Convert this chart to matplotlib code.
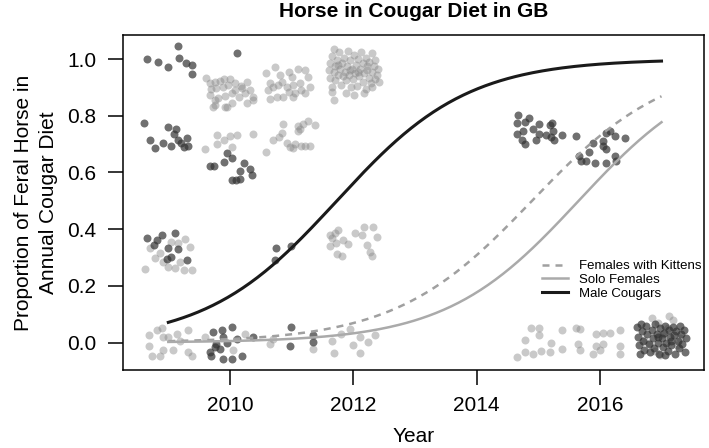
import numpy as np
import matplotlib
matplotlib.use("Agg")
import matplotlib.pyplot as plt

plt.rcParams['font.family'] = ['Liberation Sans', 'DejaVu Sans']

# jittered annual diet proportions, male cougars (dark points)
male_pts = [
    # 2009
    (2008.65, 1.002), (2008.84, 0.988), (2008.99, 0.972), (2009.16, 1.045), (2009.18, 1.004),
    (2009.28, 0.986), (2009.39, 0.980), (2009.38, 0.949),
    (2008.61, 0.775), (2008.99, 0.760), (2009.12, 0.754), (2008.70, 0.716), (2008.78, 0.687),
    (2008.92, 0.705), (2009.05, 0.695), (2009.16, 0.716), (2009.20, 0.705), (2009.30, 0.722),
    (2009.32, 0.692), (2009.10, 0.735), (2009.25, 0.690),
    (2008.65, 0.368), (2008.81, 0.362), (2008.89, 0.379), (2009.11, 0.388), (2009.00, 0.332),
    (2009.16, 0.329), (2008.98, 0.293), (2009.05, 0.303), (2009.30, 0.291), (2008.76, 0.344),
    # 2010
    (2010.11, 1.021),
    (2009.95, 0.669), (2010.03, 0.651), (2009.91, 0.636), (2009.68, 0.624), (2009.74, 0.622),
    (2010.22, 0.634), (2010.16, 0.604), (2010.32, 0.612), (2010.35, 0.592), (2010.03, 0.574),
    (2010.10, 0.572), (2010.16, 0.577),
    (2009.73, 0.037), (2009.87, 0.045), (2010.03, 0.054), (2009.89, 0.019), (2009.78, -0.005),
    (2009.68, -0.034), (2009.70, -0.046), (2009.89, -0.058), (2010.03, -0.058), (2009.84, -0.022),
    (2010.11, 0.013), (2010.19, -0.046), (2010.38, 0.019), (2009.76, -0.017), (2009.95, 0.000),
    # 2011
    (2010.74, 0.332), (2010.99, 0.340), (2010.73, 0.291),
    (2010.99, 0.054), (2010.97, -0.014), (2011.34, 0.025), (2011.35, 0.001),
    # 2015
    (2014.67, 0.801), (2014.65, 0.773), (2014.78, 0.778), (2014.85, 0.793), (2014.65, 0.734),
    (2014.73, 0.716), (2014.78, 0.699), (2014.75, 0.746), (2014.91, 0.752), (2014.96, 0.716),
    (2015.02, 0.770), (2015.02, 0.737), (2015.12, 0.731), (2015.19, 0.766), (2015.24, 0.746),
    (2015.26, 0.716), (2015.38, 0.731), (2015.62, 0.728), (2015.22, 0.775), (2015.20, 0.725),
    # 2016
    (2015.70, 0.639), (2015.66, 0.657), (2015.83, 0.671), (2015.77, 0.639), (2015.92, 0.633),
    (2015.89, 0.705), (2016.05, 0.711), (2016.10, 0.740), (2016.24, 0.728), (2016.40, 0.722),
    (2016.16, 0.746), (2016.10, 0.681), (2016.24, 0.657), (2016.27, 0.639), (2016.10, 0.633),
    (2016.05, 0.693),
    # 2017
    (2016.60, 0.055), (2016.62, 0.020), (2016.63, -0.010), (2016.65, -0.040), (2016.68, 0.040),
    (2016.70, 0.005), (2016.72, -0.025), (2016.75, 0.060), (2016.77, 0.030), (2016.79, -0.005),
    (2016.81, -0.035), (2016.84, 0.045), (2016.86, 0.015), (2016.88, -0.020), (2016.90, 0.065),
    (2016.92, 0.030), (2016.94, 0.000), (2016.96, -0.040), (2016.98, 0.050), (2017.00, 0.015),
    (2017.02, -0.015), (2017.04, 0.035), (2017.06, 0.060), (2017.08, 0.000), (2017.10, -0.030),
    (2017.12, 0.045), (2017.14, 0.020), (2017.16, -0.010), (2017.18, 0.055), (2017.20, 0.025),
    (2017.22, -0.040), (2017.24, 0.040), (2017.26, 0.005), (2017.28, -0.020), (2017.30, 0.060),
    (2017.32, 0.030), (2017.34, -0.005), (2017.36, 0.045), (2017.38, -0.035), (2017.40, 0.015),
    (2016.66, 0.065), (2017.05, -0.045), (2016.95, 0.020), (2017.15, 0.005),
]

# jittered annual diet proportions, females (light points)
female_pts = [
    # 2009
    (2008.68, 0.028), (2008.81, 0.043), (2008.90, 0.052), (2008.92, 0.019), (2008.69, -0.014),
    (2008.73, -0.046), (2008.86, -0.046), (2008.92, -0.028), (2009.08, -0.028), (2009.19, 0.007),
    (2009.32, 0.045), (2009.38, -0.046), (2009.32, -0.034), (2009.00, 0.019), (2009.14, 0.031),
    (2008.62, 0.258), (2008.70, 0.332), (2008.78, 0.297), (2008.86, 0.315), (2009.05, 0.356),
    (2009.16, 0.350), (2009.27, 0.364), (2009.35, 0.338), (2009.11, 0.262), (2009.26, 0.255),
    (2009.39, 0.255), (2009.00, 0.267), (2009.19, 0.285), (2008.92, 0.285),
    # 2010
    (2009.61, 0.935), (2009.68, 0.914), (2009.76, 0.920), (2009.84, 0.924), (2009.91, 0.928),
    (2010.00, 0.928), (2009.69, 0.893), (2009.78, 0.897), (2009.88, 0.902), (2009.97, 0.908),
    (2010.08, 0.917), (2010.18, 0.905), (2010.27, 0.920), (2009.75, 0.855), (2009.81, 0.861),
    (2009.92, 0.869), (2010.03, 0.879), (2010.14, 0.867), (2010.24, 0.879), (2010.32, 0.891),
    (2010.38, 0.867), (2009.76, 0.838), (2009.92, 0.832), (2010.03, 0.844), (2010.27, 0.846),
    (2010.38, 0.855), (2009.68, 0.873), (2010.08, 0.891), (2010.19, 0.897), (2009.73, 0.832),
    (2009.95, 0.832),
    (2009.59, 0.683), (2009.79, 0.733), (2009.79, 0.699), (2010.00, 0.728), (2010.11, 0.733),
    (2010.38, 0.734), (2010.04, 0.690), (2009.90, 0.715),
    (2010.05, -0.028), (2009.60, 0.020), (2010.25, 0.030),
    # 2011
    (2010.59, 0.950), (2010.65, 0.917), (2010.73, 0.973), (2010.81, 0.944), (2010.84, 0.920),
    (2010.95, 0.955), (2011.01, 0.938), (2011.11, 0.964), (2011.22, 0.961), (2011.27, 0.938),
    (2010.70, 0.902), (2010.78, 0.908), (2010.92, 0.902), (2011.03, 0.908), (2011.14, 0.914),
    (2011.30, 0.902), (2010.65, 0.858), (2010.76, 0.865), (2010.86, 0.867), (2011.03, 0.865),
    (2011.16, 0.891), (2010.95, 0.885), (2011.05, 0.879), (2010.62, 0.891), (2011.22, 0.879),
    (2010.59, 0.671), (2010.70, 0.716), (2010.84, 0.740), (2010.86, 0.770), (2010.92, 0.705),
    (2011.03, 0.687), (2011.11, 0.763), (2011.13, 0.752), (2011.16, 0.693), (2011.27, 0.781),
    (2011.38, 0.766), (2011.30, 0.693), (2011.22, 0.693), (2010.97, 0.690), (2011.10, 0.745),
    (2010.80, 0.725), (2011.18, 0.770), (2011.05, 0.700),
    (2010.65, -0.005), (2010.70, 0.013), (2011.35, -0.022),
    # 2012
    (2011.60, 0.960), (2011.62, 0.985), (2011.63, 0.935), (2011.66, 1.010), (2011.68, 0.955),
    (2011.70, 0.975), (2011.71, 0.925), (2011.73, 0.995), (2011.75, 0.945), (2011.77, 1.025),
    (2011.78, 0.965), (2011.80, 0.910), (2011.82, 0.985), (2011.83, 0.940), (2011.85, 1.005),
    (2011.86, 0.955), (2011.88, 0.925), (2011.90, 0.975), (2011.91, 1.030), (2011.93, 0.945),
    (2011.95, 0.995), (2011.96, 0.900), (2011.98, 0.965), (2012.00, 0.930), (2012.01, 1.015),
    (2012.03, 0.950), (2012.05, 0.980), (2012.06, 0.905), (2012.08, 1.000), (2012.10, 0.940),
    (2012.11, 0.965), (2012.13, 1.025), (2012.15, 0.920), (2012.16, 0.985), (2012.18, 0.950),
    (2012.20, 0.895), (2012.21, 1.005), (2012.23, 0.960), (2012.25, 0.935), (2012.26, 0.990),
    (2012.28, 0.915), (2012.30, 1.020), (2012.31, 0.955), (2012.33, 0.975), (2012.35, 0.930),
    (2012.36, 0.995), (2012.38, 0.945), (2012.40, 0.965), (2012.41, 0.920), (2011.65, 0.900),
    (2011.88, 0.880), (2012.02, 0.875), (2012.18, 0.880), (2012.30, 0.900), (2011.94, 0.960),
    (2012.07, 0.955), (2012.22, 0.975), (2011.76, 0.980), (2011.68, 1.035), (2011.65, 0.883),
    (2011.69, 0.855),
    (2011.62, 0.379), (2011.70, 0.388), (2011.76, 0.397), (2011.62, 0.340), (2011.72, 0.350),
    (2011.84, 0.362), (2011.92, 0.348), (2011.73, 0.314), (2011.82, 0.305), (2012.03, 0.388),
    (2012.14, 0.379), (2012.18, 0.407), (2012.32, 0.407), (2012.38, 0.371), (2012.22, 0.344),
    (2012.27, 0.320), (2012.31, 0.305), (2011.66, 0.367),
    (2011.65, 0.007), (2011.69, -0.038), (2011.94, 0.049), (2012.11, -0.038), (2012.24, 0.001),
    (2012.11, 0.019), (2011.80, 0.030), (2012.35, 0.025), (2012.00, -0.010),
    # 2015
    (2014.65, -0.050), (2014.78, -0.034), (2014.78, 0.009), (2014.89, 0.052), (2015.01, 0.052),
    (2015.01, 0.025), (2015.05, -0.031), (2015.19, -0.034), (2015.21, -0.002), (2015.38, 0.045),
    (2015.38, -0.022), (2014.92, -0.040),
    # 2016
    (2015.62, 0.052), (2015.68, 0.049), (2015.64, -0.005), (2015.67, -0.026), (2015.94, 0.031),
    (2016.05, 0.033), (2016.16, 0.033), (2016.32, 0.043), (2015.94, -0.011), (2016.05, -0.005),
    (2015.89, -0.040), (2016.00, -0.028), (2016.32, -0.011), (2016.32, -0.040),
    # 2017
    (2016.85, 0.085), (2016.95, 0.070), (2017.12, 0.095), (2017.18, 0.080), (2016.72, 0.010),
    (2017.02, 0.030), (2016.90, -0.030), (2017.25, -0.010), (2017.10, 0.050), (2016.80, 0.000),
    (2017.30, 0.015), (2016.98, -0.045),
]

# fitted logistic models: logit(p) = intercept + slope * (year - 2009)
fit_start, fit_end = 2009, 2017
fit_labels = ['Females with Kittens', 'Solo Females', 'Male Cougars']
fit_intercept = [-5.31, -6.19, -2.57]
fit_slope = [0.90, 0.93, 0.94]

x_ticks = [2010, 2012, 2014, 2016]
y_ticks = [0.0, 0.2, 0.4, 0.6, 0.8, 1.0]

fig = plt.figure(figsize=(7.09, 4.48), dpi=100)
ax = fig.add_axes([0.1735, 0.1741, 0.8195, 0.7478])

mx, my = zip(*male_pts)
fx, fy = zip(*female_pts)
ax.scatter(fx, fy, s=33, color='#888888', alpha=0.45, linewidths=0, zorder=2)
ax.scatter(mx, my, s=33, color='#333333', alpha=0.7, linewidths=0, zorder=2)

yrs = np.linspace(fit_start, fit_end, 200)
styles = [dict(color='#a0a0a0', lw=1.8, dashes=(2.8, 2.4)),
          dict(color='#aaaaaa', lw=1.8),
          dict(color='#1a1a1a', lw=2.2)]
for lab, a, b, st in zip(fit_labels, fit_intercept, fit_slope, styles):
    p = 1 / (1 + np.exp(-(a + b * (yrs - fit_start))))
    ax.plot(yrs, p, label=lab, zorder=3, **st)

ax.set_xlim(2008.265, 2017.69)
ax.set_ylim(-0.097, 1.085)
ax.set_xticks(x_ticks)
ax.set_xticklabels([str(t) for t in x_ticks])
ax.set_yticks(y_ticks)
ax.set_yticklabels([f'{t:.1f}' for t in y_ticks])
ax.tick_params(axis='both', length=11, width=1.1, labelsize=15, pad=8, direction='out')
for sp in ax.spines.values():
    sp.set_linewidth(1.1)

ax.set_ylabel('Proportion of Feral Horse in\nAnnual Cougar Diet', fontsize=15,
              linespacing=1.35, labelpad=7)
fig.text(0.584, 0.004, 'Year', fontsize=15, ha='center', va='bottom')
fig.text(0.584, 0.962, 'Horse in Cougar Diet in GB', fontsize=15, fontweight='bold',
         ha='center', va='baseline')

ax.legend(loc='center left', bbox_to_anchor=(0.721, 0.269), frameon=False, fontsize=9.5,
          handlelength=2.0, handletextpad=0.8, labelspacing=0.1, borderpad=0, borderaxespad=0)

fig.savefig('out.png', dpi=100)
